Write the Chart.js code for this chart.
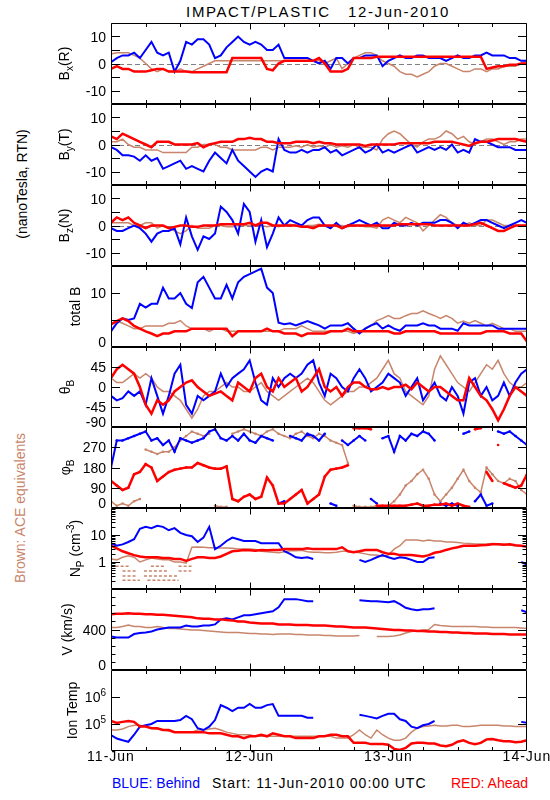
<!DOCTYPE html>
<html>
<head>
<meta charset="utf-8">
<script src="https://cdn.jsdelivr.net/npm/chart.js@4.4.0/dist/chart.umd.min.js"></script>
<style>
  body { margin: 0; background: #fff; }
  #wrap { position: relative; width: 550px; height: 800px; overflow: hidden; font-family: 'Liberation Sans', Arial, sans-serif; background: #fff; }
  canvas { position: absolute; left: 0; }
  .t { position: absolute; white-space: pre; font-size: 14px; line-height: 1; }
  .rot { transform: translate(-50%, -50%) rotate(-90deg); }
</style>
</head>
<body>
<div id="wrap">
  <div class="t" style="left:318px; top:4px; font-size:15px; letter-spacing:1.6px; transform:translateX(-50%);">IMPACT/PLASTIC   12-Jun-2010</div>
  <div class="t rot" style="left:22px; top:184px;">(nanoTesla, RTN)</div>
  <div class="t rot" style="left:20px; top:508px; color:#c8856b;">Brown: ACE equivalents</div>
  <div class="t" style="left:112px; top:776px; color:#0000ff;">BLUE: Behind</div>
  <div class="t" style="left:212px; top:776px; letter-spacing:1px;">Start: 11-Jun-2010 00:00 UTC</div>
  <div class="t" style="left:451px; top:776px; color:#ff0000;">RED: Ahead</div>
</div>
<script>
// hours since 11-Jun-2010 00:00 UTC, one sample per hour
const hours = Array.from({ length: 73 }, (_, i) => i);
const dayTicks = [0, 24, 48, 72];
const dayLabels = ['11-Jun', '12-Jun', '13-Jun', '14-Jun'];

// B_x (R), nT
const bxBehind = [0.5,2,3,3,4,2,5,8,4,3,4,-3,1,8,7,9,9,7,2,3,6,8,10,8,7,8,7,5,5,7,2,2,2,2,2,1,0,1,-2,2,2,0,2,2,3,3,3,-1,1,2,3,2,2,3,3,2,2,2,1,2,3,2,2,3,3,4,3,3,3,2,2,1,1];
const bxAhead = [-2,-1,-2,-2,-3,-3,-3,-2.5,-2,-2,-3,-3,-3,-3,-3.2,-3.2,-3.2,-3.2,-3.2,-3.2,-3.2,2,2,2,2,2,2,-2,-2.5,0,1,1,1,1,1,1,2,0,-3,-3,-3,-2,2,2,2,2,2.5,2.5,2.5,2.5,2.5,2.5,2.5,2.5,2.5,2.5,2.5,2.5,2.5,2.5,2.5,2.5,2.5,2.5,2.5,-2,-1.5,-1,-1,-0.5,-0.5,0,0];
const bxAce = [3.5,4,4,4,3,2,0,-2,-3,-2,-3,-3,-2,-3,-3,-2,-1,0,1,1,1,1,1,1,1,1,1,1,1,1,1,1,1,1,1,1,1,0,1,2,-2,0,2,3,4,4,3,1,0,-1,-3,-4,-4,-5,-4,-3,-1,0,0,-1,-2,-3,-3,-2,-2,-3,-2,-2,-1,-1,-1,0,1];

// B_y (T), nT
const byBehind = [-1,-2,-4,-4,-4.5,-6,-4,-6,-5,-9,-8,-7,-6,-9,-8,-9,-10,-6,-3,-5,-7,-2,-6,-8,-10,-12,-10,-9,-10,2,-2,-3,-3,-2,-3,-2,-2,-1,-3,-2,-4,-3,-2,-1,-3,-2,0,-3,-2,-3,-2,-1,0,-3,-2,-1,-2,-1,-2,0,-3,-2,-3,2,1,1,0,-1,-1,-1,-2,-2,-2];
const byAhead = [3,2,4,3,2,1,0,-1,1,1,1,0,0,0,0,0.5,-1,0,0.5,1,1,1,2,2,2.5,2,2,1,1,0.5,0.5,0.5,1,1,1,0.5,1,0.5,0.5,0,0,0,0,0,-0.5,0,0,0,0,0,0.5,0.5,0.5,0.5,0.5,0.5,1,1,1,1,0.5,0,-0.5,0.5,1,1,1.5,2,2,2,2,1.5,1];
const byAce = [1,1,2,0,-1,-1,-2,-2,-2,-3,-3,-3,-3,-3,-1,-1,0,0,0,-1,-1,-2,-2,-2,-2,-2,-1,-1,-2,-1,-1,-1,-0.5,-1,0,-1,-0.5,-1,0,-1,-0.5,-1,0,-1,-1,-1,-2,2,4,5,4,2,0,-1,1,2,2,3,5,4,2,3,1,0,1,2,2,1,0,1,1,2,2];

// B_z (N), nT
const bzBehind = [-1,-2,-2,-1,0,-1,-3,-6,-3,-2,-2,-1,-7,3,-4,-9,-4,-5,-3,7,5,2,-3,8,5,-6,2,-8,-3,3,0,2,1,0,2,3,3,0,-1,1,-1,0,1,2,1,0,1,-1,-1,1,0,0,1,0,1,1,1,2,2,1,-1,1,0,1,2,2,1,0,-1,0,1,2,1];
const bzAhead = [1,3,2,3,1,0,-1,0,0,0,-1,-0.5,0,0,-0.5,-0.5,0,0,0,0.5,0.5,0.5,0.5,0.5,1,0,1,1,0,0,0,0,0,-0.5,-0.5,-1,0,0,0,0,-1,0,0,0,0,0,0,0,0,0,0.5,0.5,0.5,0.5,0.5,0.5,0,0,0,0,0,0,0,0.5,1,0,-1,-2,-2,-1,0,0,0];
const bzAce = [1,1,1,1,0,0,1,1,-1,0,-1,-2,-3,-2,0,-1,-1,-1,0,0,-0.5,-0.5,0,0,0,0,0,-0.5,0,-0.5,0,0.5,0,-0.5,0,0,0.5,0,-0.5,0,0,-0.5,0,0,-0.5,-0.5,-1,2,3,2,1,3,2,1,-2,0,2,4,3,1,0,0,1,0,0,2,2,1,0,0,0,0,0];

// total B, nT
const btBehind = [2.9,4.4,5.3,5,5.3,8,7.3,8,8,11,9,9,10,8,7.2,12,13,11,9,9,11.5,9,12,13,13.5,14,14.5,11,10,4.5,4.2,4.4,4,4.4,4.8,4.4,4,3.4,4,4,4,4.4,3.4,2.5,3.4,4,4.4,3.4,4,3.4,3,4,4,4,4.4,4,4,3.4,3.4,3.4,3,4.4,4,4,4,4,4,3.4,3.4,3.4,3.4,3.4,3.4];
const btAhead = [4.2,4.8,5.3,4.8,3.9,3.4,2.9,2.5,2,2.5,2.5,2.9,2.9,2.9,3.4,3.4,3.4,3.4,3.4,3.4,3.4,2,2.9,2.9,2.9,2.9,2.9,3.4,2.9,2.9,2.5,2.5,2.5,2,2.5,2.5,2.5,2.5,2.9,2.9,2.9,3.4,2.9,2.9,2.9,2.9,2.9,2.9,2.9,2.5,2.5,2.9,2.9,2.9,2.9,2.9,2.9,2.5,2.5,2.5,2.5,2.5,2.5,2.5,2.5,2.9,2.9,2.9,2.9,2.5,2.5,2.5,1];
const btAce = [4.4,4.8,4.4,3.9,3.4,3.4,3.9,3.9,3.9,3.9,4.4,4.4,4.9,3.9,3.4,3.4,3.4,2.9,3.4,3.4,2.9,2.9,2.9,2.9,2.9,2.9,2.9,2.9,2.9,2.9,3.4,3.4,3.4,3.9,3.4,2.9,2.9,2.9,2.9,2.9,2.9,2.9,2.5,2.9,3.4,3.9,4.9,5.3,5.8,5.3,5.3,5.8,6.2,6.2,6.7,6.2,5.8,5.3,5.8,5.3,4.4,4.8,4.4,4.9,4.4,3.9,4.4,3.9,3.4,3.4,2.9,2.9,2.9];

// theta_B, degrees
const thBehind = [-20,-30,-25,-10,-20,-10,-40,20,-20,-60,-20,30,50,-40,-60,-20,-30,-20,-10,30,0,20,30,40,60,10,-30,-40,20,0,20,30,20,30,50,60,10,-20,30,20,0,-10,20,40,20,-10,0,10,30,20,10,-20,0,20,-30,-10,10,-20,-30,0,-20,-60,10,20,-20,0,-30,-20,10,-20,10,30,40];
const thAhead = [20,40,50,40,30,0,-40,-60,-30,-40,-30,-10,0,10,15,0,-10,-20,-15,-10,-20,-30,10,0,-10,20,30,0,-10,20,0,10,20,-10,0,20,40,0,-10,0,-20,0,10,10,0,-5,-5,0,-5,0,0,5,-5,10,0,-10,0,0,-10,-20,-30,-30,20,0,-20,-30,-50,-75,-50,-20,0,-10,-20];
const thAce = [20,10,10,20,30,20,30,20,0,-10,-10,-20,-30,-50,-70,-50,-20,-10,-10,0,10,0,0,-10,-10,0,10,-10,-20,-30,-20,-10,0,10,20,10,-10,-30,-40,-30,-20,-10,-10,0,0,10,20,40,60,30,20,-10,-20,-30,-40,-20,40,70,50,30,10,0,-10,10,30,50,40,60,30,10,0,0,10];

// phi_B, degrees
const phBehind = [180,300,300,310,320,330,340,300,310,280,300,250,310,300,290,300,310,340,350,310,300,320,300,330,300,290,320,310,300,20,30,320,310,300,330,320,300,330,20,10,300,280,300,320,300,40,20,310,320,250,320,300,330,320,340,330,300,20,10,20,10,330,340,30,60,10,20,340,330,340,320,300,280];
const phAhead = [120,100,80,90,150,160,195,180,120,140,160,170,175,180,180,200,190,180,175,175,185,40,30,50,60,40,50,135,100,20,20,40,60,80,20,40,60,140,170,175,180,190,355,355,355,350,10,10,10,10,10,10,15,20,10,10,15,15,20,10,20,10,5,350,355,160,120,280,110,100,90,100,150];
const phAce = [30,10,20,10,30,40,260,250,240,250,250,270,300,320,340,330,320,330,10,5,5,330,340,350,340,330,320,340,350,330,320,310,330,340,320,310,330,320,300,290,280,200,10,5,5,5,10,10,10,30,60,100,120,150,170,130,60,30,60,90,130,170,120,90,70,180,150,120,110,130,120,80,60];

// proton density, cm^-3
const npBehind = [5,4,4.5,5.5,7,17,20,18,22,20,15,18,12,10,9,5.5,8,20,3,4,6,8,7,6,6,6,5,5,5,5,2.5,2,1.5,1.4,1.5,1.3,null,null,null,null,null,null,null,1.2,1,1.2,1.5,1.8,1.5,1.3,1.5,1.4,1.2,1,1,1.4,1.5,null,null,null,null,null,null,null,null,null,null,null,null,null,null,1,0.8];
const npAhead = [4,3.2,2.5,2.1,1.8,1.6,1.5,1.5,1.5,1.4,1.4,1.3,1.3,1.1,1.3,1.5,1.5,1.4,1.4,1.6,2,2.5,2.6,2.8,2.7,2.6,2.8,2.7,2.8,2.8,3,3,3,3,3.2,3,3,3,3,3,3.5,2.5,2.3,2.5,2.8,2.8,2.8,2.3,2,2,1.8,1.8,1.8,1.7,1.6,1.8,2.2,2.4,2.8,3.2,3.5,4,4,4,4.2,4.3,4.5,4.5,4.4,4.5,4.2,4,3.7];
const npAce = [1.3,1.2,1.5,1.7,1.5,1,1.2,1.4,1.3,1.2,1.2,1,1,0.9,3.5,3.6,3.5,3.4,3.4,3.3,3.3,3.2,3,3,3,2.9,2.5,2.4,2.3,2.2,2.4,2.6,2.6,2.7,2.4,2.3,2.3,2.2,2.2,2.3,2.5,2.5,2.4,2.2,2,1.8,1.8,1.6,1.8,3,4,6.5,6.5,6.5,6,6.5,6,6,5.5,5.5,5.3,5,4.8,4.6,4.6,4.6,4.8,4.7,4.5,4.3,4,3.8,3.8];
// low-density ACE runs early on 11-Jun (start hour, end hour, density)
const npAceLowStart = [0.8, 6.9, 11.7, 2, 5.7, 11.7, 2, 5.7, 2, 6.3];
const npAceLowEnd = [3.2, 9.3, 14.2, 4.4, 9.9, 13.9, 4.4, 11.7, 5, 11.7];
const npAceLowVal = [0.69, 0.69, 0.69, 0.46, 0.46, 0.46, 0.3, 0.3, 0.21, 0.21];

// bulk speed, km/s
const vBehind = [330,320,320,320,355,365,370,380,400,410,420,420,420,440,430,430,440,440,450,500,510,500,520,540,540,550,560,570,580,620,700,700,700,690,680,680,null,null,null,null,null,null,null,690,685,680,680,675,670,680,650,615,600,590,600,600,610,null,null,null,null,null,null,null,null,null,null,null,null,null,null,590,570];
const vAhead = [550,555,555,560,555,555,550,550,545,545,540,535,530,525,520,510,505,505,500,500,495,490,480,480,470,465,460,460,460,450,450,450,445,445,445,440,440,440,435,430,430,425,420,420,420,415,410,405,400,395,395,390,390,385,385,380,380,375,375,370,370,365,365,360,360,360,355,355,355,350,350,350,350];
const vAce = [420,420,430,445,430,430,420,420,430,420,410,410,405,400,395,395,390,385,380,375,370,370,370,365,360,360,355,355,350,355,355,355,350,350,345,345,345,340,340,335,335,335,335,340,null,null,330,330,330,335,345,365,380,385,395,400,450,440,435,430,430,430,430,430,425,425,420,420,420,420,420,415,410];

// ion temperature, K
const tBehind = [3.9e4,2.9e4,2.5e4,2.2e4,4e4,8e4,9e4,1e5,1.3e5,1.3e5,1.3e5,1.3e5,1.4e5,2e5,1.5e5,7e4,6e4,8e4,1.4e5,5e5,4e5,3e5,4e5,4e5,5.5e5,4e5,4e5,5e5,5.5e5,2e5,2e5,2e5,2e5,2e5,1.7e5,1.7e5,null,null,null,null,null,null,null,2.2e5,2e5,1.8e5,1.6e5,2e5,2.4e5,2.4e5,1.5e5,1.3e5,8e4,7e4,9e4,1e5,1.3e5,null,null,null,null,null,null,null,null,null,null,null,null,null,null,1.2e5,1.1e5];
const tAhead = [1.3e5,1.1e5,1.2e5,1.3e5,1.2e5,8e4,8e4,7e4,7e4,6e4,6e4,5e4,5e4,5e4,5e4,5e4,5e4,4.5e4,4.5e4,4.5e4,4e4,3.5e4,3.5e4,3e4,3.5e4,3.5e4,4e4,3.5e4,4.5e4,4e4,3.5e4,3.5e4,3e4,3e4,3e4,3e4,3.5e4,3.5e4,4e4,4e4,3.5e4,3.5e4,2e4,2e4,2e4,1.8e4,1.8e4,1.8e4,1.7e4,1.2e4,1.1e4,1.3e4,1.9e4,2e4,2e4,1.9e4,1.9e4,1.6e4,1.5e4,1.7e4,2.2e4,2.5e4,2e4,1.8e4,2e4,2.7e4,2.8e4,2.5e4,2.3e4,2.3e4,2.1e4,2.2e4,2.5e4];
const tAce = [6e4,6e4,6.5e4,8e4,9e4,9e4,8e4,7e4,6.5e4,6e4,5.5e4,5e4,5e4,5e4,5e4,6e4,6e4,6.5e4,7e4,6e4,5e4,4.5e4,4e4,4e4,4e4,3.5e4,3.5e4,3.5e4,3.5e4,3.5e4,3.5e4,3.5e4,3.5e4,3.5e4,3.5e4,3.5e4,3.5e4,3.5e4,3.5e4,3e4,3e4,3e4,4e4,6e4,4e4,3e4,6e4,4e4,3e4,2.5e4,2.5e4,3e4,5e4,7e4,8e4,8.5e4,9e4,8.5e4,8.5e4,9e4,9e4,8e4,8e4,8.5e4,9e4,9e4,9e4,9e4,8.5e4,8.5e4,8e4,8e4,8e4];

const RED = '#ff0000', BLUE = '#0000ff', BROWN = '#c8856b';
const FONT = "'Liberation Sans', Arial, sans-serif";
const edges = [23, 104, 185, 266, 347, 427, 508, 589, 670, 751];

function series(vals, color, w, wrapAngle) {
  const ds = { data: vals.map((v, i) => ({ x: hours[i], y: v })), borderColor: color, backgroundColor: color, borderWidth: w, pointRadius: 0, spanGaps: false, fill: false };
  // angles wrap at 0/360: do not join points across the wrap, mark samples as dots instead
  if (wrapAngle) {
    ds.segment = { borderColor: c => Math.abs(c.p1.parsed.y - c.p0.parsed.y) > 150 ? 'rgba(0,0,0,0)' : undefined };
    ds.pointRadius = 1.3;
    ds.pointBorderWidth = 0;
  }
  return ds;
}
function lowRuns() {
  const pts = [];
  npAceLowVal.forEach((v, i) => {
    pts.push({ x: npAceLowStart[i], y: v }, { x: npAceLowEnd[i], y: v }, { x: npAceLowEnd[i], y: null });
  });
  return { data: pts, borderColor: BROWN, borderWidth: 1.5, borderDash: [3, 2], pointRadius: 0, spanGaps: false };
}
function trio(a, b, c, wrapAngle) {
  return [series(a, RED, 2.5, wrapAngle), series(b, BLUE, 2, wrapAngle), series(c, BROWN, 1.5, wrapAngle)];
}

const step = (a, b, s) => { const r = []; for (let v = a; v <= b + 1e-9; v += s) r.push(v); return r; };
const logMinor = [];
[0.1, 1, 10].forEach(d => { for (let k = 2; k <= 9; k++) logMinor.push(d * k); });

const panels = [
  { title: [['B', 0], ['x', 1], ['(R)', 0]], tx: 68.5, type: 'linear', min: -15, max: 15, major: step(-15, 15, 5), minor: [], labels: [[10, [['10', 0]]], [0, [['0', 0]]], [-10, [['-10', 0]]]], zero: true, ds: trio(bxAhead, bxBehind, bxAce) },
  { title: [['B', 0], ['y', 1], ['(T)', 0]], tx: 68.5, type: 'linear', min: -15, max: 15, major: step(-15, 15, 5), minor: [], labels: [[10, [['10', 0]]], [0, [['0', 0]]], [-10, [['-10', 0]]]], zero: true, ds: trio(byAhead, byBehind, byAce) },
  { title: [['B', 0], ['z', 1], ['(N)', 0]], tx: 68.5, type: 'linear', min: -15, max: 15, major: step(-15, 15, 5), minor: [], labels: [[10, [['10', 0]]], [0, [['0', 0]]], [-10, [['-10', 0]]]], zero: true, ds: trio(bzAhead, bzBehind, bzAce) },
  { title: [['total B', 0]], tx: 80, type: 'linear', min: 0, max: 15, major: step(0, 15, 5), minor: [], labels: [[10, [['10', 0]]], [0, [['0', 0]]]], ds: trio(btAhead, btBehind, btAce) },
  { title: [['\u03b8', 0], ['B', 1]], tx: 70, type: 'linear', min: -90, max: 90, major: step(-90, 90, 45), minor: [], labels: [[45, [['45', 0]]], [0, [['0', 0]]], [-45, [['-45', 0]]], [-90, [['-90', 0]]]], ds: trio(thAhead, thBehind, thAce) },
  { title: [['\u03c6', 0], ['B', 1]], tx: 70, type: 'linear', min: 0, max: 360, major: step(0, 360, 90), minor: [], labels: [[270, [['270', 0]]], [180, [['180', 0]]], [90, [['90', 0]]], [0, [['0', 0]]]], ds: trio(phAhead, phBehind, phAce, true) },
  { title: [['N', 0], ['P', 1], [' (cm', 0], ['-3', 2], [')', 0]], tx: 80, type: 'logarithmic', min: 0.1, max: 100, major: [0.1, 1, 10, 100], minor: logMinor, labels: [[10, [['10', 0]]], [1, [['1', 0]]]], ds: trio(npAhead, npBehind, npAce).concat([lowRuns()]) },
  { title: [['V (km/s)', 0]], tx: 72, type: 'linear', min: 0, max: 800, major: [0, 400, 800], minor: step(80, 720, 80), labels: [[400, [['400', 0]]], [0, [['0', 0]]]], ds: trio(vAhead, vBehind, vAce) },
  { title: [['Ion Temp', 0]], tx: 77, type: 'logarithmic', min: 1e4, max: 1e7, major: [1e5, 1e6], minor: [], labels: [[1e6, [['10', 0], ['6', 2]]], [1e5, [['10', 0], ['5', 2]]]], ds: trio(tAhead, tBehind, tAce) }
];

function drawParts(ctx, parts, x, y, align) {
  const sizes = [14, 10, 10], offs = [0, 4, -6];
  let w = 0;
  parts.forEach(([t, k]) => { ctx.font = sizes[k] + 'px ' + FONT; w += ctx.measureText(t).width; });
  let cx = align === 'right' ? x - w : align === 'center' ? x - w / 2 : x;
  ctx.textAlign = 'left';
  ctx.textBaseline = 'alphabetic';
  parts.forEach(([t, k]) => { ctx.font = sizes[k] + 'px ' + FONT; ctx.fillText(t, cx, y + offs[k]); cx += ctx.measureText(t).width; });
}

function panelPlugin(p, isLast) {
  return {
    id: 'panelFrame',
    beforeDatasetsDraw(chart) {
      if (!p.zero) return;
      const { ctx, chartArea: a } = chart;
      const y = Math.round(chart.scales.y.getPixelForValue(0)) + 0.5;
      ctx.save();
      ctx.strokeStyle = '#808080';
      ctx.lineWidth = 1;
      ctx.setLineDash([5, 3]);
      ctx.beginPath(); ctx.moveTo(a.left, y); ctx.lineTo(a.right, y); ctx.stroke();
      ctx.restore();
    },
    afterDraw(chart) {
      const { ctx, chartArea: a } = chart;
      const xs = chart.scales.x, ys = chart.scales.y;
      const L = Math.round(a.left) + 0.5, R = Math.round(a.right) - 0.5;
      const T = Math.round(a.top) + 0.5, B = Math.round(a.bottom) - 0.5;
      ctx.save();
      ctx.strokeStyle = '#000';
      ctx.fillStyle = '#000';
      ctx.lineWidth = 1;
      ctx.beginPath();
      ctx.rect(L, T, R - L, B - T);
      // time ticks every 6 h, longer at day boundaries
      for (let h = 6; h < 72; h += 6) {
        const x = Math.round(xs.getPixelForValue(h)) + 0.5;
        const len = h % 24 === 0 ? 6 : 3.5;
        ctx.moveTo(x, T); ctx.lineTo(x, T + len);
        ctx.moveTo(x, B); ctx.lineTo(x, B - len);
      }
      // value ticks on both sides
      const tick = (v, len) => {
        const y = Math.round(ys.getPixelForValue(v)) + 0.5;
        if (y < T - 0.1 || y > B + 0.1) return;
        ctx.moveTo(L, y); ctx.lineTo(L + len, y);
        ctx.moveTo(R, y); ctx.lineTo(R - len, y);
      };
      p.major.forEach(v => tick(v, 8.5));
      p.minor.forEach(v => tick(v, 4));
      ctx.stroke();
      // tick labels
      p.labels.forEach(([v, parts]) => {
        let y = ys.getPixelForValue(v);
        y = Math.min(y, a.bottom - 5);
        y = Math.max(y, a.top + 5);
        drawParts(ctx, parts, a.left - 5, y + 5, 'right');
      });
      // axis title, rotated
      ctx.save();
      ctx.translate(p.tx, (a.top + a.bottom) / 2);
      ctx.rotate(-Math.PI / 2);
      drawParts(ctx, p.title, 0, 0, 'center');
      ctx.restore();
      if (isLast) {
        ctx.font = '14px ' + FONT;
        ctx.letterSpacing = '1px';
        ctx.textAlign = 'center';
        ctx.textBaseline = 'alphabetic';
        dayTicks.forEach((h, i) => ctx.fillText(dayLabels[i], xs.getPixelForValue(h), a.bottom + 10));
      }
      ctx.restore();
    }
  };
}

const wrap = document.getElementById('wrap');
panels.forEach((p, i) => {
  const top = edges[i], h = edges[i + 1] - top;
  const isLast = i === panels.length - 1;
  const padT = 8, padB = isLast ? 40 : 8;
  const cv = document.createElement('canvas');
  cv.width = 550;
  cv.height = h + padT + padB;
  cv.style.top = (top - padT) + 'px';
  wrap.appendChild(cv);
  new Chart(cv, {
    type: 'line',
    data: { datasets: p.ds },
    options: {
      responsive: false,
      animation: false,
      events: [],
      layout: { padding: { left: 111, right: 23, top: padT, bottom: padB } },
      plugins: { legend: { display: false }, tooltip: { enabled: false } },
      scales: {
        x: { type: 'linear', min: 0, max: 72, display: false },
        y: { type: p.type, min: p.min, max: p.max, display: false }
      },
      elements: { line: { tension: 0 } }
    },
    plugins: [panelPlugin(p, isLast)]
  });
});
</script>
</body>
</html>
